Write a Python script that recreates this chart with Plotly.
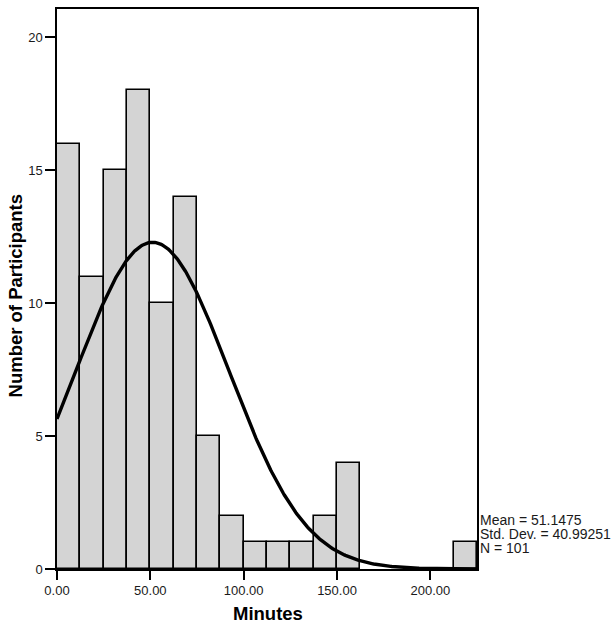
import numpy as np
import plotly.graph_objects as go

# Data
bin_start = 0.0
bin_width = 12.5
counts = [16, 11, 15, 18, 10, 14, 5, 2, 1, 1, 1, 2, 4, 0, 0, 0, 0, 1]
mean_val = 51.1475
sd_val = 40.99251
n_val = 101
x_ticks = [0, 50, 100, 150, 200]
x_tick_labels = ["0.00", "50.00", "100.00", "150.00", "200.00"]
y_ticks = [0, 5, 10, 15, 20]

centers = [bin_start + bin_width * (i + 0.5) for i in range(len(counts))]
bx = [c for c, v in zip(centers, counts) if v > 0]
by = [v for v in counts if v > 0]

x_max = bin_start + bin_width * len(counts)
xs = np.linspace(0, x_max, 400)
ys = n_val * bin_width / (sd_val * np.sqrt(2 * np.pi)) * np.exp(-0.5 * ((xs - mean_val) / sd_val) ** 2)

fig = go.Figure()
fig.add_trace(go.Bar(x=bx, y=by, width=bin_width,
                     marker=dict(color="#d4d4d4", line=dict(color="black", width=1.6)),
                     hoverinfo="skip"))
fig.add_trace(go.Scatter(x=xs, y=ys, mode="lines", line=dict(color="black", width=3.4),
                         hoverinfo="skip"))

L, R, T, B = 57, 138, 7, 59
W, H = 615, 628
ph = H - T - B
pw = W - L - R

fig.update_layout(
    width=W, height=H,
    margin=dict(l=L, r=R, t=T, b=B, pad=0),
    paper_bgcolor="white", plot_bgcolor="white",
    showlegend=False, bargap=0,
    font=dict(family="Liberation Sans, Arial, sans-serif", size=13, color="#1a1a1a"),
    xaxis=dict(range=[0, x_max], tickvals=x_ticks, ticktext=x_tick_labels,
               showline=True, mirror=True, linecolor="black", linewidth=1.5,
               ticks="outside", ticklen=9, tickwidth=1.5, tickcolor="black",
               showgrid=False, zeroline=False),
    yaxis=dict(range=[0, 21.06], tickvals=y_ticks,
               showline=True, mirror=True, linecolor="black", linewidth=1.5,
               ticks="outside", ticklen=10, tickwidth=1.5, tickcolor="black",
               showgrid=False, zeroline=False),
)

def px_x(p):
    return (p - L) / pw

def px_y(p):
    return (H - B - p) / ph

fig.add_annotation(text="<b>Minutes</b>", xref="paper", yref="paper",
                   x=px_x(268), y=px_y(614), xanchor="center", yanchor="middle",
                   showarrow=False, font=dict(size=18.5, color="black"))
fig.add_annotation(text="<b>Number of Participants</b>", xref="paper", yref="paper",
                   x=px_x(15.5), y=px_y(295), xanchor="center", yanchor="middle",
                   textangle=-90, showarrow=False, font=dict(size=18.5, color="black"))

stats = [f"Mean = {mean_val}", f"Std. Dev. = {sd_val}", f"N = {n_val}"]
ys_px = [519.5, 533.5, 547.5]
for txt, ypx in zip(stats, ys_px):
    fig.add_annotation(text=txt, xref="paper", yref="paper",
                       x=px_x(478), y=px_y(ypx),
                       xanchor="left", yanchor="middle", showarrow=False,
                       font=dict(size=14, color="#1a1a1a"))

fig.write_html("out.html", config={"displayModeBar": False},
               post_script="document.body.style.margin='0';document.body.style.overflow='hidden';")
